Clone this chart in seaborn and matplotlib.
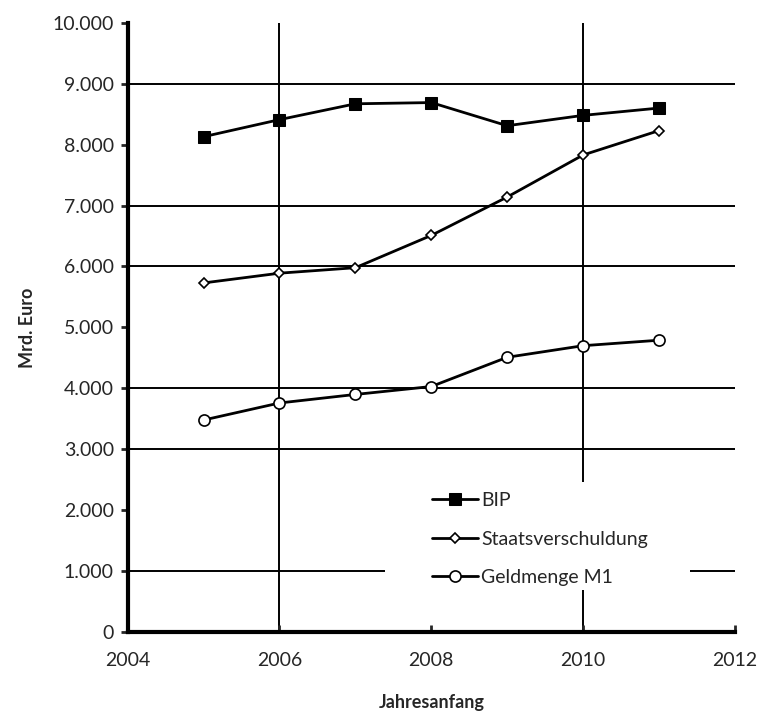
import numpy as np
import pandas as pd
import matplotlib
matplotlib.use("Agg")
import matplotlib.pyplot as plt
import seaborn as sns
from matplotlib.patches import Rectangle
from matplotlib.ticker import FuncFormatter

# Jahresanfang, values in Mrd. Euro
years = [2005, 2006, 2007, 2008, 2009, 2010, 2011]
bip = [8130, 8410, 8670, 8690, 8310, 8480, 8600]
staatsverschuldung = [5730, 5890, 5980, 6510, 7140, 7830, 8230]
geldmenge_m1 = [3480, 3760, 3900, 4030, 4510, 4700, 4790]

# gridlines as visible in the reference
hgrid = [1000, 3000, 4000, 6000, 7000, 9000]
vgrid = [2006, 2010]


def main():
    sns.set_style("white")
    plt.rcParams['font.family'] = ['Lato', 'DejaVu Sans']

    df = pd.DataFrame({"Jahr": years, "BIP": bip,
                       "Staatsverschuldung": staatsverschuldung,
                       "Geldmenge M1": geldmenge_m1})

    fig = plt.figure(figsize=(7.6, 7.11), dpi=100)
    ax = fig.add_axes([0.168, 0.111, 0.799, 0.857])

    for y in hgrid:
        ax.axhline(y, color='black', lw=1.4, zorder=0)
    for x in vgrid:
        ax.axvline(x, color='black', lw=1.4, zorder=0)

    # white box behind the legend (covers the gridlines there)
    ax.add_patch(Rectangle((0.423, 0.069), 0.503, 0.177, transform=ax.transAxes,
                           facecolor='white', edgecolor='none', zorder=1))

    sns.lineplot(df, x="Jahr", y="BIP", ax=ax, color='black', lw=2,
                 marker='s', markersize=9, markerfacecolor='black',
                 markeredgecolor='black', label='BIP', zorder=3)
    sns.lineplot(df, x="Jahr", y="Staatsverschuldung", ax=ax, color='black', lw=2,
                 marker='D', markersize=5.5, markerfacecolor='white',
                 markeredgecolor='black', markeredgewidth=1.2,
                 label='Staatsverschuldung', zorder=3)
    sns.lineplot(df, x="Jahr", y="Geldmenge M1", ax=ax, color='black', lw=2,
                 marker='o', markersize=8, markerfacecolor='white',
                 markeredgecolor='black', markeredgewidth=1.2,
                 label='Geldmenge M1', zorder=3)

    ax.set_xlim(2004, 2012)
    ax.set_ylim(0, 10000)
    ax.set_xticks([2004, 2006, 2008, 2010, 2012])
    ax.set_yticks(np.arange(0, 10001, 1000))
    ax.yaxis.set_major_formatter(FuncFormatter(
        lambda v, p: "0" if v == 0 else f"{int(v):,}".replace(",", ".")))

    for s in ['top', 'right']:
        ax.spines[s].set_visible(False)
    for s in ['left', 'bottom']:
        ax.spines[s].set_linewidth(3)
        ax.spines[s].set_color('black')
    ax.tick_params(axis='y', direction='out', length=5, width=2, labelsize=14, pad=5)
    ax.tick_params(axis='x', direction='in', length=5, width=2, labelsize=14, pad=14)
    ax.yaxis.set_ticks_position('left')
    ax.xaxis.set_ticks_position('bottom')

    ax.set_xlabel("Jahresanfang", fontsize=13, fontweight='bold', labelpad=18)
    ax.set_ylabel("Mrd. Euro", fontsize=13, fontweight='bold', labelpad=12)

    ax.legend(loc='lower left', bbox_to_anchor=(0.475, 0.05), frameon=False,
              fontsize=14, handlelength=2.4, handletextpad=0.15,
              labelspacing=1.1, borderpad=0.3)

    plt.savefig("out.png", dpi=100)
    plt.close()


if __name__ == "__main__":
    main()
